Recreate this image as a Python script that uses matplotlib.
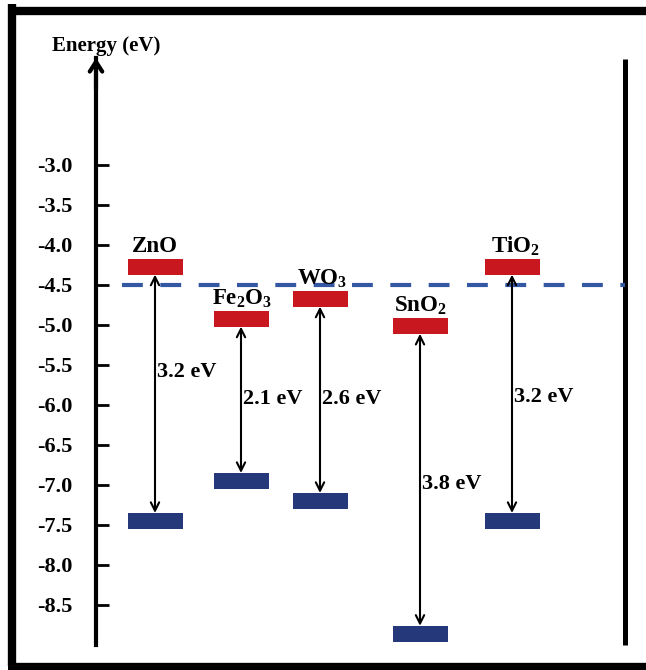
import matplotlib
matplotlib.use("Agg")
import matplotlib.pyplot as plt

plt.rcParams['font.family'] = ['Liberation Serif', 'DejaVu Serif']
plt.rcParams['font.weight'] = 'bold'
plt.rcParams['mathtext.fontset'] = 'custom'
plt.rcParams['mathtext.rm'] = 'Liberation Serif:bold'
plt.rcParams['mathtext.it'] = 'Liberation Serif:bold'
plt.rcParams['mathtext.bf'] = 'Liberation Serif:bold'

# ---- data ----
materials = ['ZnO', r'Fe$_2$O$_3$', r'WO$_3$', r'SnO$_2$', r'TiO$_2$']
cb = [-4.27, -4.92, -4.67, -5.01, -4.27]
vb = [-7.45, -6.95, -7.20, -8.86, -7.45]
gap_labels = ['3.2 eV', '2.1 eV', '2.6 eV', '3.8 eV', '3.2 eV']
ref_level = -4.5
yticks = [-3.0, -3.5, -4.0, -4.5, -5.0, -5.5, -6.0, -6.5, -7.0, -7.5, -8.0, -8.5]
ylabel = 'Energy (eV)'

# ---- layout (pixel-like x, energy y) ----
W, H = 646, 670
xc = [155, 241, 320, 420, 512]
gap_text_y = [-5.59, -5.93, -5.93, -6.99, -5.90]
label_dx = [0, 1, 2, 0, 3]
bar_w = 55
bar_h = 0.2
red = '#C8171E'
navy = '#24387A'
dash_col = '#3457A3'

def e_of(px):
    return -3.0 - (px - 165) / 80.0

fig = plt.figure(figsize=(W / 100, H / 100), dpi=100)
ax = fig.add_axes([0, 0, 1, 1])
ax.set_xlim(0, W)
ax.set_ylim(e_of(H), e_of(0))
ax.axis('off')

# outer frame (left, top, bottom)
ax.plot([12, 12], [e_of(4), e_of(666)], color='black', lw=6, solid_capstyle='butt')
ax.plot([8, W], [e_of(11), e_of(11)], color='black', lw=6, solid_capstyle='butt')
ax.plot([8, W], [e_of(667), e_of(667)], color='black', lw=6, solid_capstyle='butt')

# energy axis
ax_e = fig.add_axes([96 / W, (H - 645) / H, 0.001, (645 - 58) / H])
ax_e.set_ylim(e_of(645), e_of(58))
ax_e.set_xlim(0, 1)
for s in ['top', 'right', 'bottom']:
    ax_e.spines[s].set_visible(False)
ax_e.spines['left'].set_linewidth(3)
ax_e.set_xticks([])
ax_e.set_yticks(yticks)
ax_e.set_yticklabels([f'{t:.1f}' for t in yticks])
ax_e.tick_params(axis='y', direction='in', length=9, width=2, pad=17, labelsize=16)
for lab in ax_e.get_yticklabels():
    lab.set_fontweight('bold')
ax_e.patch.set_alpha(0)

ax.annotate('', xy=(96, e_of(58)), xytext=(96, e_of(90)),
            arrowprops=dict(arrowstyle='->,head_length=0.7,head_width=0.45',
                            lw=3, color='black', shrinkA=0, shrinkB=0))
ax.text(106, e_of(46), ylabel, ha='center', va='center', fontsize=15, fontweight='bold')

# right line
ax.plot([625, 625], [e_of(59), e_of(645)], color='black', lw=3.6, solid_capstyle='butt')

# reference dashed line
ax.axhline(ref_level, xmin=122 / W, xmax=625 / W, color=dash_col, lw=3,
           linestyle=(0, (5, 4.2)))

# bands
ax.bar(xc, [bar_h] * 5, bottom=[c - bar_h / 2 for c in cb], width=bar_w, color=red, zorder=3)
ax.bar(xc, [bar_h] * 5, bottom=[v - bar_h / 2 for v in vb], width=bar_w, color=navy, zorder=3)

for i in range(5):
    ax.annotate('', xy=(xc[i], vb[i] + bar_h / 2), xytext=(xc[i], cb[i] - bar_h / 2),
                arrowprops=dict(arrowstyle='<->,head_length=0.6,head_width=0.3',
                                lw=1.5, color='black', shrinkA=0, shrinkB=0), zorder=4)
    ax.text(xc[i] + 2, gap_text_y[i], gap_labels[i], ha='left', va='center',
            fontsize=16, fontweight='bold')
    ax.text(xc[i] + label_dx[i], cb[i] + bar_h / 2 + 0.08, materials[i], ha='center',
            va='baseline', fontsize=16.5, fontweight='bold')

fig.savefig('out.png', dpi=100)
